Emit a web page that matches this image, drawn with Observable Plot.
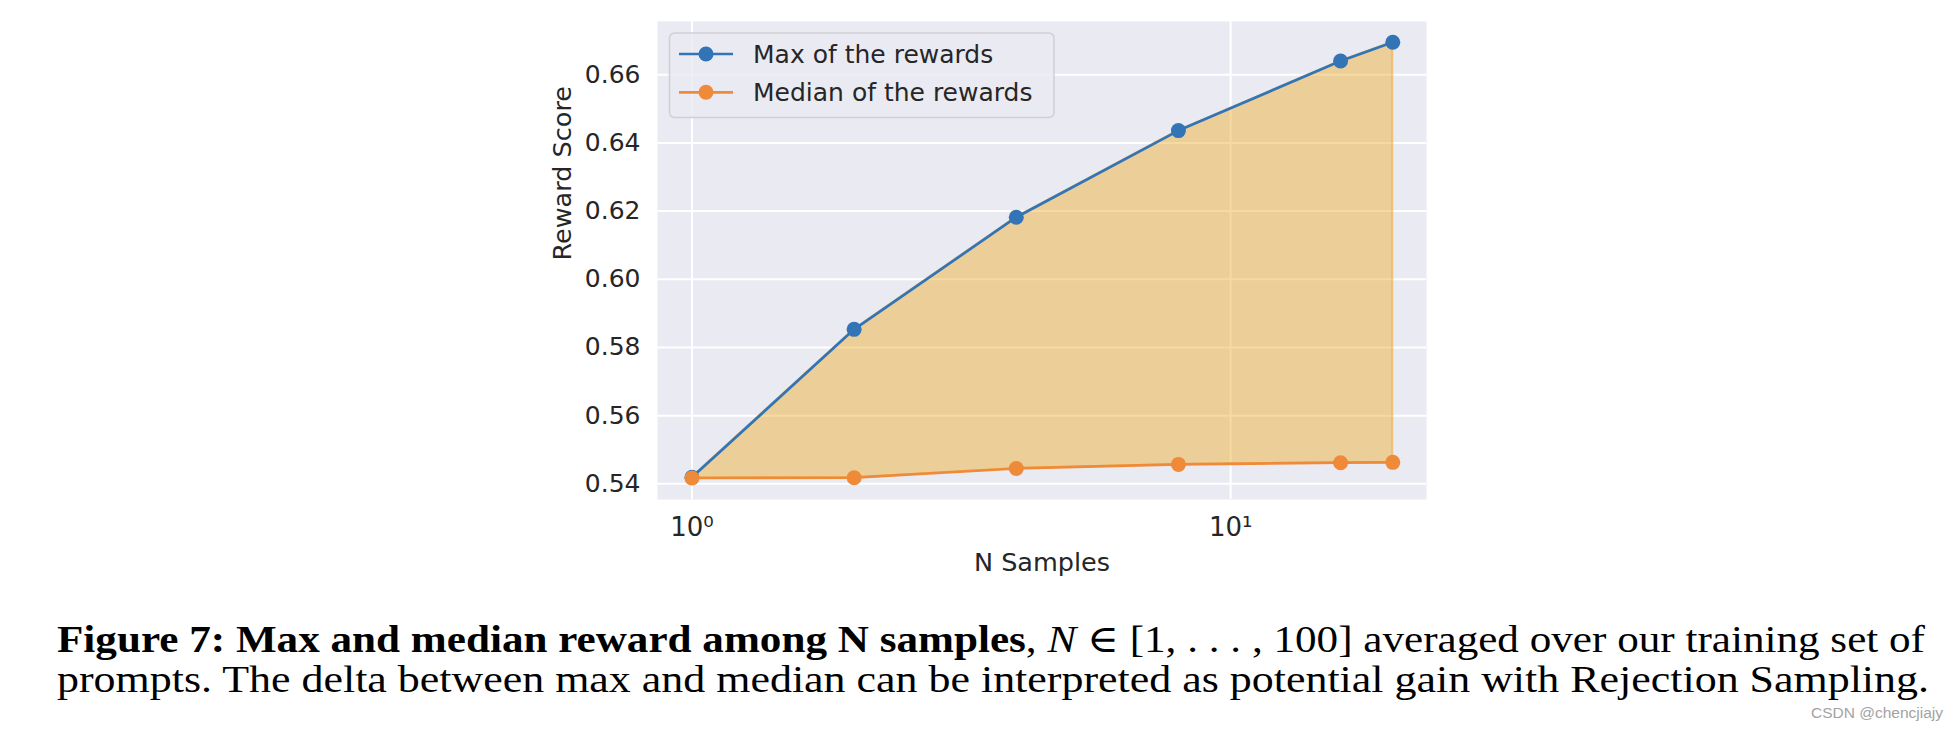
<!DOCTYPE html>
<html>
<head>
<meta charset="utf-8">
<script src="https://cdn.jsdelivr.net/npm/d3@7"></script>
<script src="https://cdn.jsdelivr.net/npm/@observablehq/plot@0.6"></script>
<style>
  html, body { margin: 0; padding: 0; background: #ffffff; }
  #wrap { position: relative; width: 1958px; height: 730px; overflow: hidden; }
  #wrap > svg { position: absolute; left: 0; top: 0; }
</style>
</head>
<body>
<div id="wrap"></div>
<script>
// ---- data ----
const nSamples = [1, 2, 4, 8, 16, 20];
const maxReward = [0.5419, 0.5853, 0.6182, 0.6436, 0.6640, 0.6695];
const medianReward = [0.5417, 0.5418, 0.5445, 0.5457, 0.5462, 0.5463];
const yTicks = [0.54, 0.56, 0.58, 0.60, 0.62, 0.64, 0.66];
const xTicks = [1, 10];
const xTickLabels = ["10⁰", "10¹"];
const seriesNames = ["Max of the rewards", "Median of the rewards"];
const xLabel = "N Samples";
const yLabel = "Reward Score";

const rows = nSamples.map((n, i) => ({n, max: maxReward[i], median: medianReward[i]}));

const BLUE = "#3274b5";
const ORANGE = "#ef8a38";
const FILL = "#eeac2a";
const BG = "#eaeaf2";
const TXT = "#262626";
const FS = 25;

const chart = Plot.plot({
  width: 1958,
  height: 600,
  marginLeft: 657,
  marginRight: 532,
  marginTop: 21,
  marginBottom: 101,
  style: {fontFamily: "DejaVu Sans", fontSize: FS + "px", color: TXT, background: "transparent"},
  x: {type: "log", domain: [0.863, 23.1]},
  y: {domain: [0.5354, 0.6756]},
  marks: [
    Plot.frame({fill: BG, stroke: null}),
    Plot.ruleY(yTicks, {stroke: "#ffffff", strokeWidth: 2}),
    Plot.ruleX(xTicks, {stroke: "#ffffff", strokeWidth: 2}),
    Plot.areaY(rows, {x: "n", y1: "median", y2: "max", fill: FILL, fillOpacity: 0.45,
      stroke: FILL, strokeOpacity: 0.55, strokeWidth: 2}),
    Plot.line(rows, {x: "n", y: "max", stroke: BLUE, strokeWidth: 2.7}),
    Plot.dot(rows, {x: "n", y: "max", fill: BLUE, r: 7.5}),
    Plot.line(rows, {x: "n", y: "median", stroke: ORANGE, strokeWidth: 2.7}),
    Plot.dot(rows, {x: "n", y: "median", fill: ORANGE, r: 7.5}),
    Plot.axisY(yTicks, {tickSize: 0, tickPadding: 17, tickFormat: d => d.toFixed(2),
      fontSize: FS, fill: TXT, label: null}),
    Plot.axisX(xTicks, {tickSize: 0, tickPadding: 18, tickFormat: d => xTickLabels[xTicks.indexOf(d)],
      fontSize: FS + 1, fill: TXT, label: null}),
    Plot.text([yLabel], {frameAnchor: "left", rotate: -90, lineAnchor: "bottom", dx: -87,
      fontSize: FS + 0.5, fill: TXT}),
    Plot.text([xLabel], {frameAnchor: "bottom", lineAnchor: "bottom", dy: 71,
      fontSize: FS + 0.5, fill: TXT})
  ]
});
document.getElementById("wrap").appendChild(chart);

// ---- legend overlay ----
const NS = "http://www.w3.org/2000/svg";
function el(tag, attrs, parent) {
  const e = document.createElementNS(NS, tag);
  for (const k in attrs) e.setAttribute(k, attrs[k]);
  if (parent) parent.appendChild(e);
  return e;
}
const leg = el("svg", {width: 1958, height: 600});
el("rect", {x: 669.5, y: 33, width: 384.5, height: 84.5, rx: 5, ry: 5,
  fill: BG, "fill-opacity": 0.8, stroke: "#cfcfd4", "stroke-width": 1.5}, leg);
[[BLUE, 54], [ORANGE, 92.3]].forEach(([c, y], i) => {
  el("line", {x1: 679, x2: 733, y1: y, y2: y, stroke: c, "stroke-width": 2.7}, leg);
  el("circle", {cx: 706, cy: y, r: 7.5, fill: c}, leg);
  const t = el("text", {x: 753, y: y + 9, "font-family": "DejaVu Sans", "font-size": FS, fill: TXT}, leg);
  t.textContent = seriesNames[i];
});
document.getElementById("wrap").appendChild(leg);

// ---- caption ----
const cap = el("svg", {width: 1958, height: 730});
const serif = "'Liberation Serif', 'DejaVu Serif', serif";
const l1 = el("text", {x: 57, y: 652, "font-family": serif, "font-size": 38, fill: "#000",
  textLength: 1868, lengthAdjust: "spacingAndGlyphs"}, cap);
const b = el("tspan", {"font-weight": "bold"}, l1);
b.textContent = "Figure 7: Max and median reward among N samples";
const t1 = el("tspan", {}, l1); t1.textContent = ", ";
const it = el("tspan", {"font-style": "italic"}, l1); it.textContent = "N";
const t2 = el("tspan", {}, l1); t2.textContent = " ∈ [1, . . . , 100] averaged over our training set of";
const l2 = el("text", {x: 57, y: 692, "font-family": serif, "font-size": 38, fill: "#000",
  textLength: 1872, lengthAdjust: "spacingAndGlyphs"}, cap);
l2.textContent = "prompts. The delta between max and median can be interpreted as potential gain with Rejection Sampling.";
const wm = el("text", {x: 1943, y: 718, "text-anchor": "end", "font-family": "'Liberation Sans', Arial, sans-serif",
  "font-size": 15.5, fill: "#a3a3a3"}, cap);
wm.textContent = "CSDN @chencjiajy";
document.getElementById("wrap").appendChild(cap);
</script>
</body>
</html>
